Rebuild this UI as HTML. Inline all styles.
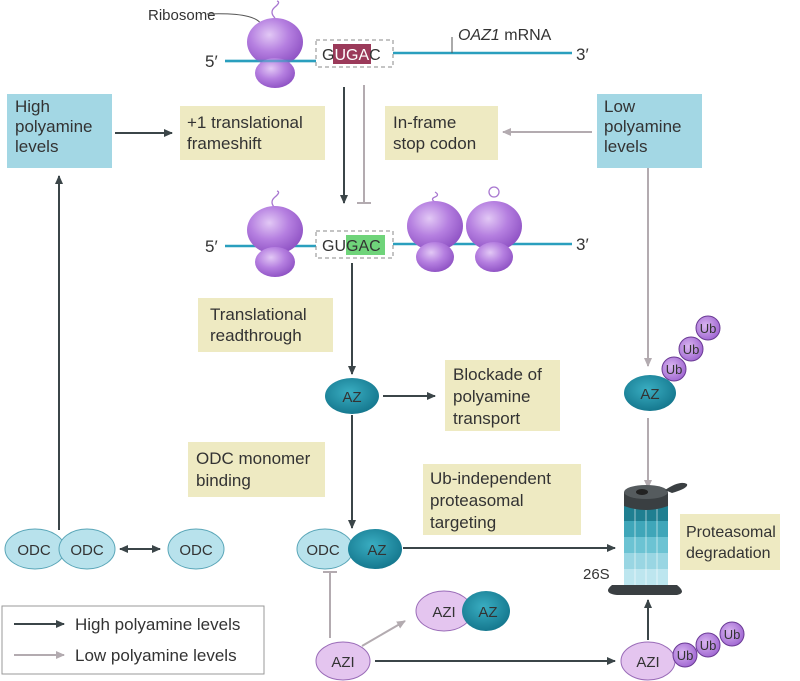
<!DOCTYPE html>
<html><head><meta charset="utf-8"><style>
html,body{margin:0;padding:0;background:#fff;}
svg{display:block;}
text{font-family:"Liberation Sans",sans-serif;fill:#333;}
</style></head><body>
<svg width="800" height="681" viewBox="0 0 800 681" xmlns="http://www.w3.org/2000/svg">
<defs>
<radialGradient id="rib" cx="0.4" cy="0.35" r="0.7"><stop offset="0" stop-color="#e2c8f5"/><stop offset="0.5" stop-color="#b57fe0"/><stop offset="1" stop-color="#8c4fc2"/></radialGradient>
<radialGradient id="az" cx="0.45" cy="0.4" r="0.7"><stop offset="0" stop-color="#3aaec2"/><stop offset="1" stop-color="#0f6f86"/></radialGradient>
<radialGradient id="ub" cx="0.4" cy="0.4" r="0.7"><stop offset="0" stop-color="#d9b5f0"/><stop offset="1" stop-color="#9a5fcf"/></radialGradient>
<marker id="ad" markerWidth="10" markerHeight="10" refX="8" refY="5" orient="auto" markerUnits="userSpaceOnUse"><path d="M0,1 L9,5 L0,9 z" fill="#3b4548"/></marker>
<marker id="ads" markerWidth="10" markerHeight="10" refX="1" refY="5" orient="auto" markerUnits="userSpaceOnUse"><path d="M9,1 L0,5 L9,9 z" fill="#3b4548"/></marker>
<marker id="ag" markerWidth="10" markerHeight="10" refX="8" refY="5" orient="auto" markerUnits="userSpaceOnUse"><path d="M0,1 L9,5 L0,9 z" fill="#b3abb0"/></marker>
</defs>

<line x1="225" y1="61" x2="316" y2="61" stroke="#2a9fbe" stroke-width="2.5"/>
<line x1="393" y1="53" x2="572" y2="53" stroke="#2a9fbe" stroke-width="2.5"/>
<text x="205" y="67" font-size="17">5′</text>
<text x="576" y="60" font-size="17">3′</text>
<line x1="452" y1="37" x2="452" y2="53" stroke="#555" stroke-width="1"/>
<text x="458" y="40" font-size="16"><tspan font-style="italic">OAZ1</tspan> mRNA</text>
<text x="148" y="20" font-size="15">Ribosome</text>
<path d="M207,14 Q262,12 262,28" stroke="#555" fill="none"/>
<path d="M275,18 q-6,-6 0,-11 q6,-5 2,-6" stroke="#a877d0" fill="none" stroke-width="1.3"/>
<ellipse cx="275" cy="42" rx="28" ry="24" fill="url(#rib)"/>
<ellipse cx="275" cy="73" rx="20" ry="15" fill="url(#rib)"/>
<line x1="225" y1="61" x2="316" y2="61" stroke="#2a9fbe" stroke-width="2.5" opacity="0.6"/>
<rect x="316" y="40" width="77" height="27" fill="none" stroke="#888" stroke-dasharray="4,3"/>
<rect x="333" y="44" width="38" height="20" fill="#9b3a5a"/>
<text x="322" y="60" font-size="16">G<tspan fill="#fff">UGA</tspan>C</text>

<line x1="344" y1="87" x2="344" y2="203" stroke="#3b4548" stroke-width="2" marker-end="url(#ad)"/>
<line x1="364" y1="85" x2="364" y2="203" stroke="#b3abb0" stroke-width="2"/>
<line x1="357" y1="203" x2="371" y2="203" stroke="#b3abb0" stroke-width="2"/>

<rect x="7" y="94" width="105" height="74" fill="#a3d7e4"/>
<text font-size="17"><tspan x="15" y="112">High</tspan><tspan x="15" y="132">polyamine</tspan><tspan x="15" y="152">levels</tspan></text>
<line x1="115" y1="133" x2="172" y2="133" stroke="#3b4548" stroke-width="2" marker-end="url(#ad)"/>
<rect x="180" y="106" width="145" height="54" fill="#eeeac2"/>
<text font-size="17"><tspan x="187" y="128">+1 translational</tspan><tspan x="187" y="149">frameshift</tspan></text>
<rect x="385" y="106" width="113" height="54" fill="#eeeac2"/>
<text font-size="17"><tspan x="393" y="128">In-frame</tspan><tspan x="393" y="149">stop codon</tspan></text>
<rect x="597" y="94" width="105" height="74" fill="#a3d7e4"/>
<text font-size="17"><tspan x="604" y="112">Low</tspan><tspan x="604" y="132">polyamine</tspan><tspan x="604" y="152">levels</tspan></text>
<line x1="592" y1="132" x2="503" y2="132" stroke="#b3abb0" stroke-width="2" marker-end="url(#ag)"/>

<line x1="225" y1="246" x2="316" y2="246" stroke="#2a9fbe" stroke-width="2.5"/>
<line x1="393" y1="244" x2="572" y2="244" stroke="#2a9fbe" stroke-width="2.5"/>
<text x="205" y="252" font-size="17">5′</text>
<text x="576" y="250" font-size="17">3′</text>
<path d="M275,208 q-6,-6 0,-11 q6,-5 2,-6" stroke="#a877d0" fill="none" stroke-width="1.3"/>
<ellipse cx="275" cy="230" rx="28" ry="24" fill="url(#rib)"/>
<ellipse cx="275" cy="262" rx="20" ry="15" fill="url(#rib)"/>
<path d="M435,202 q-5,-3 0,-5 q5,-2 0,-5" stroke="#a877d0" fill="none" stroke-width="1.3"/>
<ellipse cx="435" cy="226" rx="28" ry="25" fill="url(#rib)"/>
<ellipse cx="435" cy="257" rx="19" ry="15" fill="url(#rib)"/>
<circle cx="494" cy="192" r="5" stroke="#a877d0" fill="none" stroke-width="1.3"/>
<ellipse cx="494" cy="226" rx="28" ry="25" fill="url(#rib)"/>
<ellipse cx="494" cy="257" rx="19" ry="15" fill="url(#rib)"/>
<rect x="316" y="231" width="77" height="27" fill="none" stroke="#888" stroke-dasharray="4,3"/>
<rect x="346" y="235" width="39" height="20" fill="#6fd47a"/>
<text x="322" y="251" font-size="16">GUGAC</text>

<line x1="352" y1="263" x2="352" y2="374" stroke="#3b4548" stroke-width="2" marker-end="url(#ad)"/>
<rect x="198" y="298" width="135" height="54" fill="#eeeac2"/>
<text font-size="17"><tspan x="210" y="320">Translational</tspan><tspan x="210" y="341">readthrough</tspan></text>

<ellipse cx="352" cy="396" rx="27" ry="18" fill="url(#az)"/>
<text x="352" y="402" font-size="15" text-anchor="middle" fill="#dff">AZ</text>
<line x1="383" y1="396" x2="435" y2="396" stroke="#3b4548" stroke-width="2" marker-end="url(#ad)"/>
<rect x="445" y="360" width="115" height="71" fill="#eeeac2"/>
<text font-size="17"><tspan x="453" y="380">Blockade of</tspan><tspan x="453" y="402">polyamine</tspan><tspan x="453" y="424">transport</tspan></text>
<line x1="352" y1="415" x2="352" y2="528" stroke="#3b4548" stroke-width="2" marker-end="url(#ad)"/>
<rect x="188" y="442" width="137" height="55" fill="#eeeac2"/>
<text font-size="17"><tspan x="196" y="464">ODC monomer</tspan><tspan x="196" y="486">binding</tspan></text>
<rect x="423" y="464" width="158" height="71" fill="#eeeac2"/>
<text font-size="17"><tspan x="430" y="484">Ub-independent</tspan><tspan x="430" y="506">proteasomal</tspan><tspan x="430" y="528">targeting</tspan></text>

<line x1="648" y1="168" x2="648" y2="366" stroke="#b3abb0" stroke-width="2" marker-end="url(#ag)"/>
<circle cx="708" cy="328" r="12" fill="url(#ub)" stroke="#6a3a94"/>
<circle cx="691" cy="349" r="12" fill="url(#ub)" stroke="#6a3a94"/>
<circle cx="674" cy="369" r="12" fill="url(#ub)" stroke="#6a3a94"/>
<text font-size="13" text-anchor="middle" fill="#3a1a5a"><tspan x="708" y="333">Ub</tspan><tspan x="691" y="354">Ub</tspan><tspan x="674" y="374">Ub</tspan></text>
<ellipse cx="650" cy="393" rx="26" ry="18" fill="url(#az)"/>
<text x="650" y="399" font-size="15" text-anchor="middle" fill="#dff">AZ</text>
<line x1="648" y1="418" x2="648" y2="488" stroke="#b3abb0" stroke-width="2" marker-end="url(#ag)"/>

<g>
<path d="M612,585 q-10,8 5,10 l60,0 q10,-2 0,-10 z" fill="#3a3f42"/>
<rect x="624" y="505" width="44" height="80" fill="#bde6ef"/>
<rect x="624" y="505" width="44" height="16" fill="#1f7f91"/>
<rect x="624" y="521" width="44" height="16" fill="#3fa6b9"/>
<rect x="624" y="537" width="44" height="16" fill="#6cc3d3"/>
<rect x="624" y="553" width="44" height="16" fill="#99d6e3"/>
<g stroke="#fff" stroke-width="0.8" opacity="0.7"><line x1="635" y1="505" x2="635" y2="585"/><line x1="646" y1="505" x2="646" y2="585"/><line x1="657" y1="505" x2="657" y2="585"/></g>
<path d="M624,492 l0,14 q22,8 44,0 l0,-14 z" fill="#3a3f42"/>
<ellipse cx="646" cy="492" rx="22" ry="7" fill="#555b5e"/>
<ellipse cx="642" cy="492" rx="6" ry="3" fill="#222"/>
<path d="M665,490 q15,-10 22,-6 q2,4 -15,9 z" fill="#3a3f42"/>
</g>
<text x="583" y="579" font-size="15">26S</text>
<rect x="680" y="514" width="100" height="56" fill="#eeeac2"/>
<text font-size="16"><tspan x="686" y="537">Proteasomal</tspan><tspan x="686" y="558">degradation</tspan></text>

<line x1="403" y1="548" x2="615" y2="548" stroke="#3b4548" stroke-width="2" marker-end="url(#ad)"/>
<ellipse cx="325" cy="549" rx="28" ry="20" fill="#b8e2ec" stroke="#5aa6b8"/>
<text x="323" y="555" font-size="15" text-anchor="middle">ODC</text>
<ellipse cx="375" cy="549" rx="27" ry="20" fill="url(#az)"/>
<text x="377" y="555" font-size="15" text-anchor="middle" fill="#dff">AZ</text>

<line x1="59" y1="530" x2="59" y2="176" stroke="#3b4548" stroke-width="2" marker-end="url(#ad)"/>
<ellipse cx="35" cy="549" rx="30" ry="20" fill="#b8e2ec" stroke="#5aa6b8"/>
<ellipse cx="87" cy="549" rx="28" ry="20" fill="#b8e2ec" stroke="#5aa6b8"/>
<text x="34" y="555" font-size="15" text-anchor="middle">ODC</text>
<text x="87" y="555" font-size="15" text-anchor="middle">ODC</text>
<line x1="120" y1="549" x2="160" y2="549" stroke="#3b4548" stroke-width="2" marker-end="url(#ad)" marker-start="url(#ads)"/>
<ellipse cx="196" cy="549" rx="28" ry="20" fill="#b8e2ec" stroke="#5aa6b8"/>
<text x="196" y="555" font-size="15" text-anchor="middle">ODC</text>

<line x1="330" y1="638" x2="330" y2="572" stroke="#b3abb0" stroke-width="2"/>
<line x1="323" y1="572" x2="337" y2="572" stroke="#b3abb0" stroke-width="2"/>
<ellipse cx="343" cy="661" rx="27" ry="19" fill="#e4c5ef" stroke="#9a6cb8"/>
<text x="343" y="667" font-size="15" text-anchor="middle">AZI</text>
<line x1="362" y1="646" x2="405" y2="621" stroke="#b3abb0" stroke-width="2" marker-end="url(#ag)"/>
<ellipse cx="444" cy="611" rx="28" ry="20" fill="#e4c5ef" stroke="#9a6cb8"/>
<text x="444" y="617" font-size="15" text-anchor="middle">AZI</text>
<ellipse cx="486" cy="611" rx="24" ry="20" fill="url(#az)"/>
<text x="488" y="617" font-size="15" text-anchor="middle" fill="#dff">AZ</text>
<line x1="375" y1="661" x2="615" y2="661" stroke="#3b4548" stroke-width="2" marker-end="url(#ad)"/>
<ellipse cx="648" cy="661" rx="27" ry="19" fill="#e4c5ef" stroke="#9a6cb8"/>
<text x="648" y="667" font-size="15" text-anchor="middle">AZI</text>
<line x1="648" y1="640" x2="648" y2="600" stroke="#3b4548" stroke-width="2" marker-end="url(#ad)"/>
<circle cx="685" cy="655" r="12" fill="url(#ub)" stroke="#6a3a94"/>
<circle cx="708" cy="645" r="12" fill="url(#ub)" stroke="#6a3a94"/>
<circle cx="732" cy="634" r="12" fill="url(#ub)" stroke="#6a3a94"/>
<text font-size="13" text-anchor="middle" fill="#3a1a5a"><tspan x="685" y="660">Ub</tspan><tspan x="708" y="650">Ub</tspan><tspan x="732" y="639">Ub</tspan></text>

<rect x="2" y="606" width="262" height="68" fill="#fff" stroke="#999"/>
<line x1="14" y1="624" x2="64" y2="624" stroke="#3b4548" stroke-width="2" marker-end="url(#ad)"/>
<text x="75" y="630" font-size="17">High polyamine levels</text>
<line x1="14" y1="655" x2="64" y2="655" stroke="#b3abb0" stroke-width="2" marker-end="url(#ag)"/>
<text x="75" y="661" font-size="17">Low polyamine levels</text>
</svg>
</body></html>
